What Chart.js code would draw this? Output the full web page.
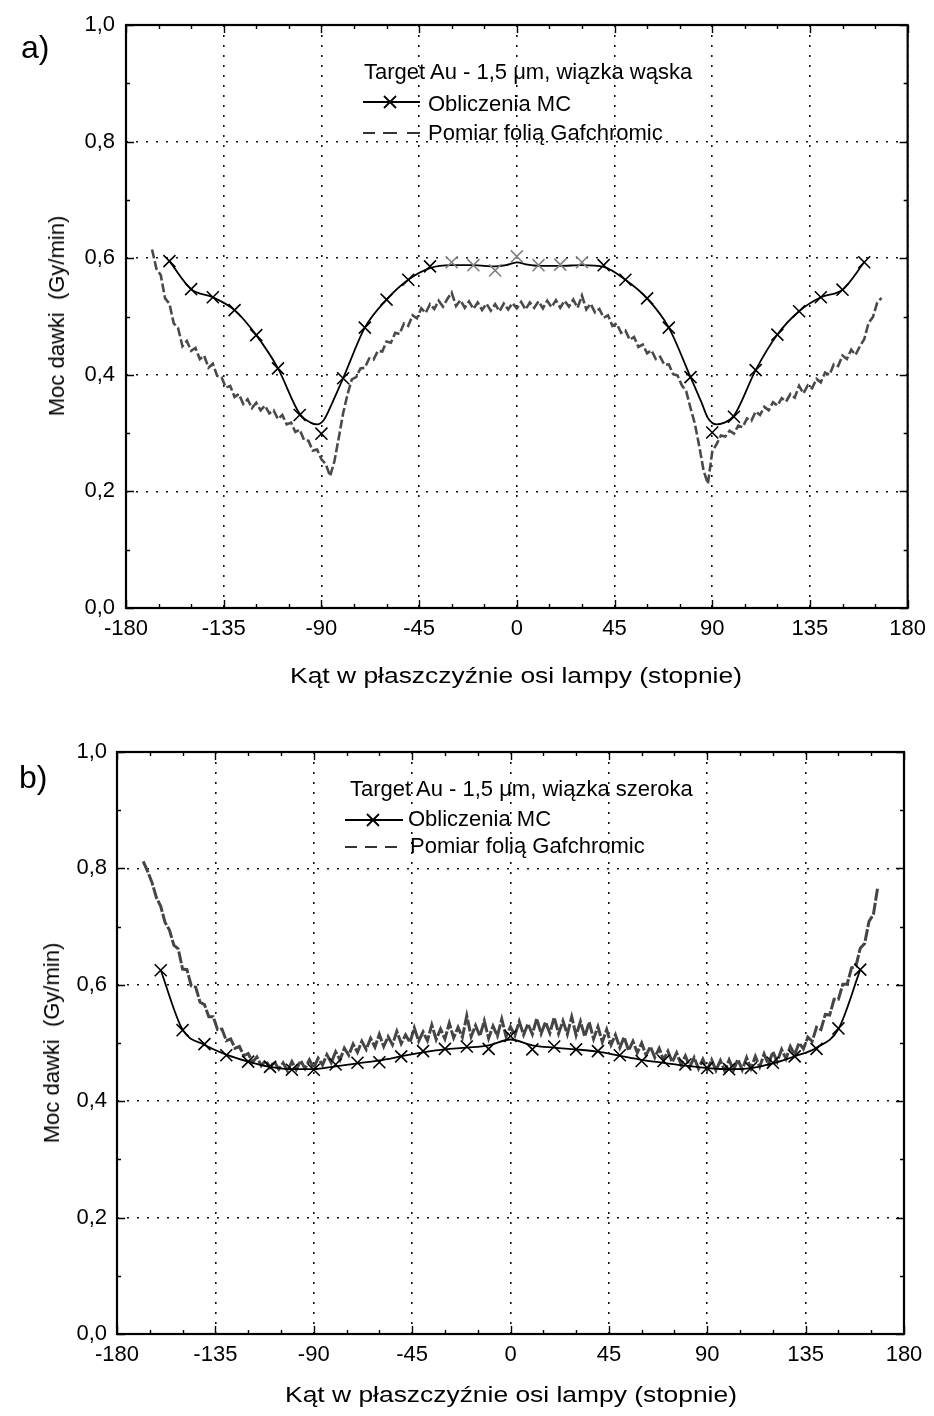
<!DOCTYPE html>
<html>
<head>
<meta charset="utf-8">
<script src="https://cdn.jsdelivr.net/npm/chart.js@4.4.0/dist/chart.umd.min.js"></script>
<style>
  html, body { margin:0; padding:0; background:#fff; }
  #wrap { position:relative; width:934px; height:1416px; overflow:hidden; background:#fff;
          font-family:"Liberation Sans", Arial, sans-serif; color:#000; }
  canvas { position:absolute; left:0; }
  .t { position:absolute; white-space:pre; font-size:22px; line-height:22px; }
  .lab { position:absolute; font-size:32px; line-height:32px; }
  .xt { position:absolute; white-space:pre; font-size:22px; line-height:22px; transform-origin:50% 50%; }
  .yt { position:absolute; white-space:pre; font-size:22px; line-height:22px; }
  svg { position:absolute; }
</style>
</head>
<body>
<div id="wrap">
  <canvas id="ca" width="934" height="700" style="top:0;width:934px;height:700px"></canvas>
  <canvas id="cb" width="934" height="716" style="top:700px;width:934px;height:716px"></canvas>

  <div class="lab" style="left:21px;top:31px">a)</div>
  <div class="lab" style="left:19px;top:761px">b)</div>

  <!-- legend a -->
  <div class="t" style="left:364px;top:61px">Target Au - 1,5 μm, wiązka wąska</div>
  <svg style="left:360px;top:90px" width="66" height="24">
    <line x1="3" y1="12" x2="60" y2="12" stroke="#000" stroke-width="1.8"/>
    <line x1="24" y1="6" x2="36" y2="18" stroke="#000" stroke-width="1.8"/>
    <line x1="24" y1="18" x2="36" y2="6" stroke="#000" stroke-width="1.8"/>
  </svg>
  <div class="t" style="left:428px;top:93px">Obliczenia MC</div>
  <svg style="left:360px;top:121px" width="66" height="24">
    <line x1="3" y1="12" x2="15" y2="12" stroke="#333" stroke-width="2"/>
    <line x1="23" y1="12" x2="37" y2="12" stroke="#333" stroke-width="2"/>
    <line x1="47" y1="12" x2="60" y2="12" stroke="#333" stroke-width="2"/>
  </svg>
  <div class="t" style="left:428px;top:122px">Pomiar folią Gafchromic</div>

  <!-- legend b -->
  <div class="t" style="left:350px;top:778px">Target Au - 1,5 μm, wiązka szeroka</div>
  <svg style="left:342px;top:808px" width="66" height="24">
    <line x1="3" y1="12" x2="61" y2="12" stroke="#000" stroke-width="1.8"/>
    <line x1="25" y1="6" x2="37" y2="18" stroke="#000" stroke-width="1.8"/>
    <line x1="25" y1="18" x2="37" y2="6" stroke="#000" stroke-width="1.8"/>
  </svg>
  <div class="t" style="left:408px;top:808px">Obliczenia MC</div>
  <svg style="left:342px;top:835px" width="66" height="24">
    <line x1="3" y1="12" x2="15" y2="12" stroke="#333" stroke-width="2"/>
    <line x1="23" y1="12" x2="35" y2="12" stroke="#333" stroke-width="2"/>
    <line x1="43" y1="12" x2="55" y2="12" stroke="#333" stroke-width="2"/>
  </svg>
  <div class="t" style="left:410px;top:835px">Pomiar folią Gafchromic</div>

  <!-- axis titles -->
  <div class="xt" id="xta" style="left:516px;top:665px">Kąt w płaszczyźnie osi lampy (stopnie)</div>
  <div class="xt" id="xtb" style="left:511px;top:1384px">Kąt w płaszczyźnie osi lampy (stopnie)</div>
  <div class="yt" id="yta" style="left:57px;top:316px">Moc dawki  (Gy/min)</div>
  <div class="yt" id="ytb" style="left:52px;top:1043px">Moc dawki  (Gy/min)</div>
</div>

<script>
// ---------- tick labels ----------
const xTicks = [-180, -135, -90, -45, 0, 45, 90, 135, 180];
const xTickLabels = ['-180', '-135', '-90', '-45', '0', '45', '90', '135', '180'];
const yTicks = [0, 0.2, 0.4, 0.6, 0.8, 1.0];
const yTickLabels = ['0,0', '0,2', '0,4', '0,6', '0,8', '1,0'];

// ---------- panel a : MC calculation (crosses) ----------
const mcA_x = [-160,-150,-140,-130,-120,-110,-100,-90,-80,-70,-60,-50,-40,-30,-20,-10,0,10,20,30,40,50,60,70,80,90,100,110,120,130,140,150,160];
const mcA_y = [0.595,0.547,0.533,0.511,0.468,0.411,0.331,0.299,0.394,0.481,0.529,0.563,0.586,0.593,0.588,0.579,0.603,0.588,0.589,0.593,0.588,0.563,0.531,0.481,0.396,0.301,0.328,0.408,0.469,0.509,0.533,0.546,0.593];
// panel a : MC smooth curve
const mcLineA_x = [-160,-150,-140,-130,-120,-110,-100,-95,-92,-89,-85,-80,-70,-60,-50,-40,-30,-20,-10,-5,0,5,10,20,30,40,50,60,70,80,85,88,92,95,100,110,120,130,140,150,160];
const mcLineA_y = [0.595,0.547,0.533,0.511,0.468,0.411,0.333,0.318,0.315,0.322,0.352,0.394,0.481,0.529,0.563,0.583,0.588,0.588,0.586,0.588,0.593,0.589,0.587,0.587,0.588,0.585,0.563,0.531,0.481,0.396,0.353,0.326,0.315,0.317,0.330,0.408,0.469,0.509,0.533,0.546,0.593];
// panel a : Gafchromic measurement
const measA_x = [-168,-166,-164,-162,-160,-158,-156,-154,-152,-150,-148,-146,-144,-142,-140,-138,-136,-134,-132,-130,-128,-126,-124,-122,-120,-118,-116,-114,-112,-110,-108,-106,-104,-102,-100,-98,-96,-94,-92,-90,-88,-86,-84,-82,-80,-78,-76,-74,-72,-70,-68,-66,-64,-62,-60,-58,-56,-54,-52,-50,-48,-46,-44,-42,-40,-38,-36,-34,-32,-30,-28,-26,-24,-22,-20,-18,-16,-14,-12,-10,-8,-6,-4,-2,0,2,4,6,8,10,12,14,16,18,20,22,24,26,28,30,32,34,36,38,40,42,44,46,48,50,52,54,56,58,60,62,64,66,68,70,72,74,76,78,80,82,84,86,88,90,92,94,96,98,100,102,104,106,108,110,112,114,116,118,120,122,124,126,128,130,132,134,136,138,140,142,144,146,148,150,152,154,156,158,160,162,164,166,168];
const measA_y = [0.615,0.582,0.571,0.531,0.522,0.488,0.480,0.449,0.458,0.441,
0.446,0.427,0.433,0.412,0.419,0.398,0.396,0.378,0.381,0.362,
0.367,0.350,0.358,0.343,0.352,0.339,0.347,0.334,0.339,0.324,
0.331,0.315,0.318,0.302,0.306,0.288,0.287,0.270,0.272,0.255,
0.247,0.226,0.252,0.292,0.334,0.366,0.392,0.396,0.411,0.412,
0.428,0.426,0.441,0.440,0.457,0.455,0.472,0.470,0.488,0.484,
0.502,0.497,0.514,0.506,0.521,0.513,0.527,0.517,0.530,0.541,
0.518,0.528,0.515,0.526,0.513,0.524,0.511,0.522,0.510,0.521,
0.509,0.522,0.512,0.523,0.514,0.525,0.512,0.524,0.515,0.526,
0.514,0.527,0.516,0.528,0.515,0.527,0.517,0.529,0.515,0.536,
0.512,0.522,0.507,0.513,0.498,0.502,0.484,0.488,0.472,0.476,
0.460,0.465,0.448,0.452,0.437,0.442,0.427,0.431,0.417,0.418,
0.401,0.399,0.382,0.372,0.343,0.316,0.278,0.236,0.213,0.268,
0.281,0.296,0.294,0.304,0.299,0.313,0.310,0.325,0.321,0.337,
0.331,0.345,0.339,0.353,0.347,0.360,0.354,0.367,0.361,0.381,
0.368,0.382,0.377,0.393,0.387,0.404,0.400,0.418,0.415,0.433,
0.427,0.443,0.434,0.449,0.461,0.489,0.499,0.524,0.532];

// ---------- panel b ----------
const mcB_x = [-160,-150,-140,-130,-120,-110,-100,-90,-80,-70,-60,-50,-40,-30,-20,-10,0,10,20,30,40,50,60,70,80,90,100,110,120,130,140,150,160];
const mcB_y = [0.625,0.522,0.498,0.479,0.468,0.459,0.454,0.454,0.463,0.466,0.467,0.477,0.486,0.490,0.494,0.490,0.512,0.489,0.494,0.489,0.486,0.479,0.469,0.469,0.463,0.457,0.455,0.457,0.466,0.477,0.490,0.525,0.626];
const mcLineB_x = [-160,-150,-140,-130,-120,-110,-100,-90,-80,-70,-60,-50,-40,-30,-20,-10,0,10,20,30,40,50,60,70,80,90,100,110,120,130,140,150,160];
const mcLineB_y = [0.625,0.523,0.497,0.480,0.468,0.459,0.455,0.455,0.460,0.465,0.470,0.477,0.484,0.489,0.492,0.496,0.506,0.496,0.492,0.489,0.485,0.478,0.471,0.466,0.461,0.457,0.455,0.457,0.465,0.477,0.492,0.524,0.626];
const measB_x = [-168,-166,-164,-162,-160,-158,-156,-154,-152,-150,-148,-146,-144,-142,-140,-138,-136,-134,-132,-130,-128,-126,-124,-122,-120,-118,-116,-114,-112,-110,-108,-106,-104,-102,-100,-98,-96,-94,-92,-90,-88,-86,-84,-82,-80,-78,-76,-74,-72,-70,-68,-66,-64,-62,-60,-58,-56,-54,-52,-50,-48,-46,-44,-42,-40,-38,-36,-34,-32,-30,-28,-26,-24,-22,-20,-18,-16,-14,-12,-10,-8,-6,-4,-2,0,2,4,6,8,10,12,14,16,18,20,22,24,26,28,30,32,34,36,38,40,42,44,46,48,50,52,54,56,58,60,62,64,66,68,70,72,74,76,78,80,82,84,86,88,90,92,94,96,98,100,102,104,106,108,110,112,114,116,118,120,122,124,126,128,130,132,134,136,138,140,142,144,146,148,150,152,154,156,158,160,162,164,166,168];
const measB_y = [0.812,0.795,0.776,0.750,0.735,0.707,0.694,0.668,0.662,0.627,
0.626,0.598,0.596,0.570,0.566,0.545,0.545,0.523,0.524,0.504,
0.507,0.491,0.494,0.478,0.482,0.467,0.476,0.461,0.470,0.458,
0.468,0.455,0.466,0.452,0.468,0.454,0.470,0.456,0.471,0.457,
0.474,0.462,0.480,0.466,0.485,0.471,0.491,0.479,0.498,0.484,
0.503,0.489,0.508,0.493,0.515,0.494,0.511,0.497,0.520,0.499,
0.514,0.501,0.526,0.503,0.519,0.504,0.531,0.506,0.524,0.507,
0.534,0.509,0.527,0.510,0.547,0.511,0.530,0.512,0.538,0.508,
0.529,0.512,0.541,0.511,0.528,0.513,0.537,0.514,0.533,0.515,
0.542,0.516,0.536,0.517,0.544,0.516,0.538,0.515,0.545,0.513,
0.537,0.511,0.536,0.507,0.528,0.502,0.523,0.497,0.514,0.492,
0.510,0.487,0.503,0.483,0.500,0.479,0.494,0.475,0.491,0.471,
0.486,0.467,0.483,0.463,0.478,0.459,0.475,0.456,0.472,0.454,
0.471,0.453,0.470,0.452,0.471,0.453,0.472,0.454,0.475,0.456,
0.477,0.459,0.481,0.463,0.485,0.468,0.489,0.473,0.494,0.480,
0.500,0.490,0.510,0.503,0.527,0.523,0.549,0.548,0.575,0.575,
0.601,0.601,0.629,0.632,0.663,0.671,0.709,0.721,0.768];

const FONT = '"Liberation Sans", Arial, sans-serif';
const zip = (xs, ys) => xs.map((x, i) => ({ x: x, y: ys[i] }));

// frame + inward tick marks on all four sides
const frameTicks = {
  id: 'frameTicks',
  afterDraw(chart) {
    const { ctx, chartArea: a, scales: { x, y } } = chart;
    ctx.save();
    ctx.strokeStyle = '#000';
    ctx.lineWidth = 1.4;
    ctx.beginPath();
    for (let v = x.min; v <= x.max + 1e-9; v += 15) {
      const px = Math.round(x.getPixelForValue(v)) + 0.5;
      const len = Math.abs(v % 45) < 1e-6 ? 8 : 4;
      ctx.moveTo(px, a.bottom); ctx.lineTo(px, a.bottom - len);
      ctx.moveTo(px, a.top); ctx.lineTo(px, a.top + len);
    }
    for (let i = 0; i <= 10; i++) {
      const v = y.min + i * (y.max - y.min) / 10;
      const py = Math.round(y.getPixelForValue(v)) + 0.5;
      const len = i % 2 === 0 ? 8 : 4;
      ctx.moveTo(a.left, py); ctx.lineTo(a.left + len, py);
      ctx.moveTo(a.right, py); ctx.lineTo(a.right - len, py);
    }
    ctx.stroke();
    ctx.lineWidth = 2.2;
    ctx.strokeRect(a.left, a.top, a.right - a.left, a.bottom - a.top);
    ctx.restore();
  }
};

function build(id, p) {
  return new Chart(document.getElementById(id), {
    type: 'line',
    data: {
      datasets: [
        { data: zip(p.mcX, p.mcY), showLine: false, pointStyle: 'crossRot', pointRadius: 8.5,
          pointBorderWidth: 1.6, pointBackgroundColor: 'transparent',
          pointBorderColor: p.mcX.map(v => (p.grayCenter && Math.abs(v) <= 30) ? '#808080' : '#000') },
        { data: zip(p.lineX, p.lineY), borderColor: '#000', borderWidth: 1.8, pointRadius: 0,
          cubicInterpolationMode: 'monotone', fill: false },
        { data: zip(p.measX, p.measY), borderColor: p.measColor, borderWidth: p.measWidth,
          borderDash: p.measDash, pointRadius: 0, tension: 0, fill: false }
      ]
    },
    options: {
      animation: false, responsive: false, devicePixelRatio: 1,
      layout: { padding: p.padding },
      plugins: { legend: { display: false }, tooltip: { enabled: false } },
      scales: {
        x: {
          type: 'linear', min: -180, max: 180,
          afterFit: s => { s.height = p.xH; },
          afterBuildTicks: s => { s.ticks = xTicks.map(v => ({ value: v })); },
          ticks: { callback: (v, i) => xTickLabels[i], color: '#000', font: { family: FONT, size: 22 },
                   padding: p.xPad, maxRotation: 0, autoSkip: false },
          grid: { color: '#111', lineWidth: 1.6, drawTicks: false },
          border: { display: false, dash: [2, 8] }
        },
        y: {
          type: 'linear', min: 0, max: 1,
          afterFit: s => { s.width = p.yW; },
          afterBuildTicks: s => { s.ticks = yTicks.map(v => ({ value: v })); },
          ticks: { callback: (v, i) => yTickLabels[i], color: '#000', font: { family: FONT, size: 22 },
                   padding: p.yPad, autoSkip: false },
          grid: { color: '#111', lineWidth: 1.6, drawTicks: false },
          border: { display: false, dash: [2, 8] }
        }
      }
    },
    plugins: [frameTicks]
  });
}

build('ca', { mcX: mcA_x, mcY: mcA_y, lineX: mcLineA_x, lineY: mcLineA_y, measX: measA_x, measY: measA_y,
  grayCenter: true, measColor: '#4a4a4a', measWidth: 2.6, measDash: [9, 3],
  padding: { left: 0, right: 23, top: 25, bottom: 0 }, xH: 92, yW: 126, xPad: 8, yPad: 11 });
build('cb', { mcX: mcB_x, mcY: mcB_y, lineX: mcLineB_x, lineY: mcLineB_y, measX: measB_x, measY: measB_y,
  grayCenter: false, measColor: '#454545', measWidth: 3, measDash: [12, 2],
  padding: { left: 0, right: 30, top: 52, bottom: 0 }, xH: 82, yW: 117, xPad: 8, yPad: 10 });

// axis titles: centre them on their anchor
for (const id of ['xta', 'xtb']) {
  document.getElementById(id).style.transform = 'translateX(-50%) scaleX(1.2)';
}
for (const id of ['yta', 'ytb']) {
  document.getElementById(id).style.transform = 'translate(-50%, -50%) rotate(-90deg)';
}
</script>
</body>
</html>
